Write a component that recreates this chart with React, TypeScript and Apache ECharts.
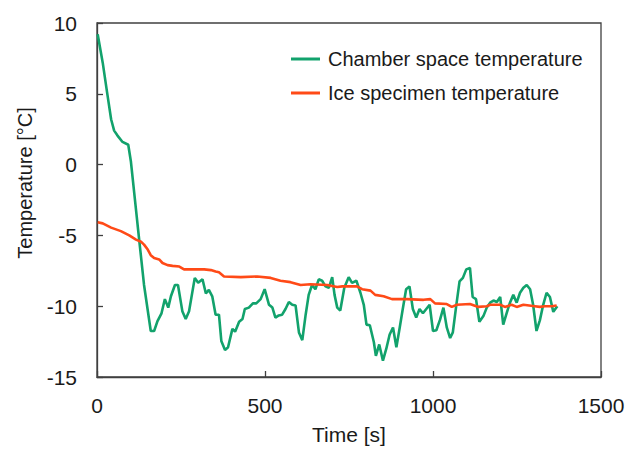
import React, { useEffect, useRef } from "react";
import * as echarts from "echarts";

const chamberTime = [2, 17, 30, 42, 51, 61, 76, 93, 101, 121, 140, 160, 170, 180, 192, 202, 212, 220, 232, 241, 254, 264, 274, 291, 301, 314, 324, 333, 343, 353, 363, 370, 381, 390, 403, 411, 423, 433, 440, 452, 464, 474, 487, 499, 512, 522, 531, 541, 551, 561, 571, 581, 591, 601, 611, 621, 630, 640, 650, 660, 670, 680, 690, 700, 707, 715, 724, 736, 749, 759, 772, 784, 794, 802, 812, 824, 830, 840, 851, 861, 871, 881, 891, 901, 910, 920, 930, 940, 950, 960, 970, 980, 990, 1000, 1010, 1021, 1031, 1041, 1051, 1059, 1069, 1079, 1089, 1099, 1110, 1118, 1128, 1138, 1150, 1160, 1170, 1180, 1190, 1200, 1209, 1219, 1229, 1239, 1249, 1259, 1269, 1279, 1289, 1298, 1308, 1318, 1328, 1338, 1348, 1358, 1370];
const chamberTemp = [9.2, 7.2, 5.1, 3.2, 2.4, 2.05, 1.6, 1.4, 0.2, -4.3, -8.5, -11.75, -11.75, -11.05, -10.5, -9.5, -10.1, -9.3, -8.5, -8.5, -10.35, -10.9, -10.35, -8.0, -8.35, -8.1, -9.1, -8.85, -9.3, -10.6, -10.6, -12.45, -13.1, -12.9, -11.6, -11.8, -11.1, -10.9, -10.2, -10.1, -9.8, -9.8, -9.5, -8.8, -9.9, -10.1, -10.8, -10.65, -10.6, -10.2, -9.7, -9.9, -9.95, -11.85, -12.4, -10.6, -9.2, -8.5, -8.8, -8.1, -8.2, -8.6, -8.7, -7.95, -9.2, -10.1, -10.3, -8.7, -7.95, -8.35, -8.2, -9.05, -9.9, -11.3, -11.35, -12.55, -13.5, -12.7, -13.85, -13.0, -12.0, -11.5, -12.9, -11.5, -10.2, -8.8, -8.6, -10.2, -10.8, -10.2, -10.5, -10.2, -9.9, -11.75, -11.7, -10.95, -10.1, -11.5, -12.25, -11.85, -10.0, -8.25, -8.0, -7.4, -7.3, -9.35, -9.5, -11.1, -10.7, -10.1, -9.75, -9.6, -9.7, -9.35, -11.3, -10.5, -9.75, -9.2, -9.75, -9.05, -8.7, -8.5, -8.8, -9.9, -11.75, -11.0, -9.9, -9.05, -9.35, -10.4, -10.0];

const iceTime = [2, 17, 42, 71, 96, 116, 131, 140, 151, 160, 170, 185, 195, 210, 225, 245, 259, 319, 339, 353, 363, 378, 428, 477, 517, 546, 576, 606, 635, 685, 715, 730, 774, 789, 814, 828, 853, 878, 922, 972, 992, 1006, 1041, 1056, 1071, 1110, 1135, 1160, 1170, 1200, 1214, 1234, 1249, 1269, 1303, 1318, 1333, 1353, 1368];
const iceTemp = [-4.07, -4.15, -4.45, -4.7, -5.0, -5.3, -5.45, -5.65, -6.0, -6.4, -6.6, -6.7, -6.95, -7.1, -7.15, -7.2, -7.4, -7.4, -7.45, -7.55, -7.6, -7.9, -7.95, -7.9, -8.0, -8.2, -8.3, -8.5, -8.45, -8.5, -8.65, -8.6, -8.6, -8.8, -8.9, -9.2, -9.3, -9.5, -9.5, -9.55, -9.5, -9.8, -9.85, -10.05, -9.9, -9.85, -10.05, -10.0, -9.9, -9.9, -10.05, -9.9, -10.05, -9.9, -10.0, -10.05, -10.0, -10.0, -9.95];

const seriesNames = ["Chamber space temperature", "Ice specimen temperature"];
const xLabel = "Time [s]";
const yLabel = "Temperature [°C]";

const FONT = "'Liberation Sans', Arial, sans-serif";
const AXIS_COLOR = "#404040";
const TEXT_COLOR = "#1a1a1a";

export default function App() {
  const ref = useRef<HTMLDivElement>(null);
  useEffect(() => {
    if (!ref.current) return;
    const chart = echarts.init(ref.current, undefined, { renderer: "svg" });
    const zip = (xs: number[], ys: number[]) => xs.map((x, i) => [x, ys[i]]);
    chart.setOption({
      animation: false,
      textStyle: { fontFamily: FONT },
      grid: {
        left: 97,
        top: 23,
        right: 37,
        bottom: 71,
        show: true,
        borderColor: AXIS_COLOR,
        borderWidth: 1.3,
        containLabel: false,
      },
      legend: {
        orient: "vertical",
        left: 291,
        top: 49,
        padding: 0,
        itemWidth: 29,
        itemHeight: 3,
        itemGap: 14,
        icon: "rect",
        textStyle: {
          fontFamily: FONT,
          fontSize: 20,
          color: TEXT_COLOR,
          lineHeight: 20,
          padding: [0, 0, 0, 3],
        },
        data: seriesNames,
      },
      xAxis: {
        type: "value",
        min: 0,
        max: 1500,
        interval: 500,
        axisLine: { show: true, onZero: false, lineStyle: { color: AXIS_COLOR, width: 1.3 } },
        axisTick: { show: true, inside: true, length: 6, lineStyle: { color: AXIS_COLOR, width: 1.3 } },
        splitLine: { show: false },
        axisLabel: {
          fontFamily: FONT,
          fontSize: 21,
          color: TEXT_COLOR,
          margin: 18,
          formatter: (v: number) => String(v),
        },
        name: xLabel,
        nameLocation: "middle",
        nameGap: 47,
        nameTextStyle: { fontFamily: FONT, fontSize: 21, color: TEXT_COLOR },
      },
      yAxis: {
        type: "value",
        min: -15,
        max: 10,
        interval: 5,
        axisLine: { show: true, onZero: false, lineStyle: { color: AXIS_COLOR, width: 1.3 } },
        axisTick: { show: true, inside: true, length: 6, lineStyle: { color: AXIS_COLOR, width: 1.3 } },
        splitLine: { show: false },
        axisLabel: {
          fontFamily: FONT,
          fontSize: 21,
          color: TEXT_COLOR,
          margin: 20,
          formatter: (v: number) => String(v),
        },
      },
      graphic: [
        {
          type: "text",
          x: 25,
          y: 183,
          rotation: Math.PI / 2,
          style: {
            text: yLabel,
            fontFamily: FONT,
            fontSize: 20,
            fill: TEXT_COLOR,
            textAlign: "center",
            textVerticalAlign: "middle",
          },
        },
      ],
      series: [
        {
          name: seriesNames[0],
          type: "line",
          data: zip(chamberTime, chamberTemp),
          showSymbol: false,
          symbol: "none",
          lineStyle: { color: "#12A26C", width: 2.6 },
          itemStyle: { color: "#12A26C" },
          z: 2,
        },
        {
          name: seriesNames[1],
          type: "line",
          data: zip(iceTime, iceTemp),
          showSymbol: false,
          symbol: "none",
          lineStyle: { color: "#FF4A17", width: 2.6 },
          itemStyle: { color: "#FF4A17" },
          z: 3,
        },
      ],
    });
    return () => chart.dispose();
  }, []);
  return (
    <div
      ref={ref}
      style={{ position: "fixed", left: 0, top: 0, width: 638, height: 450, background: "#fff" }}
    />
  );
}
